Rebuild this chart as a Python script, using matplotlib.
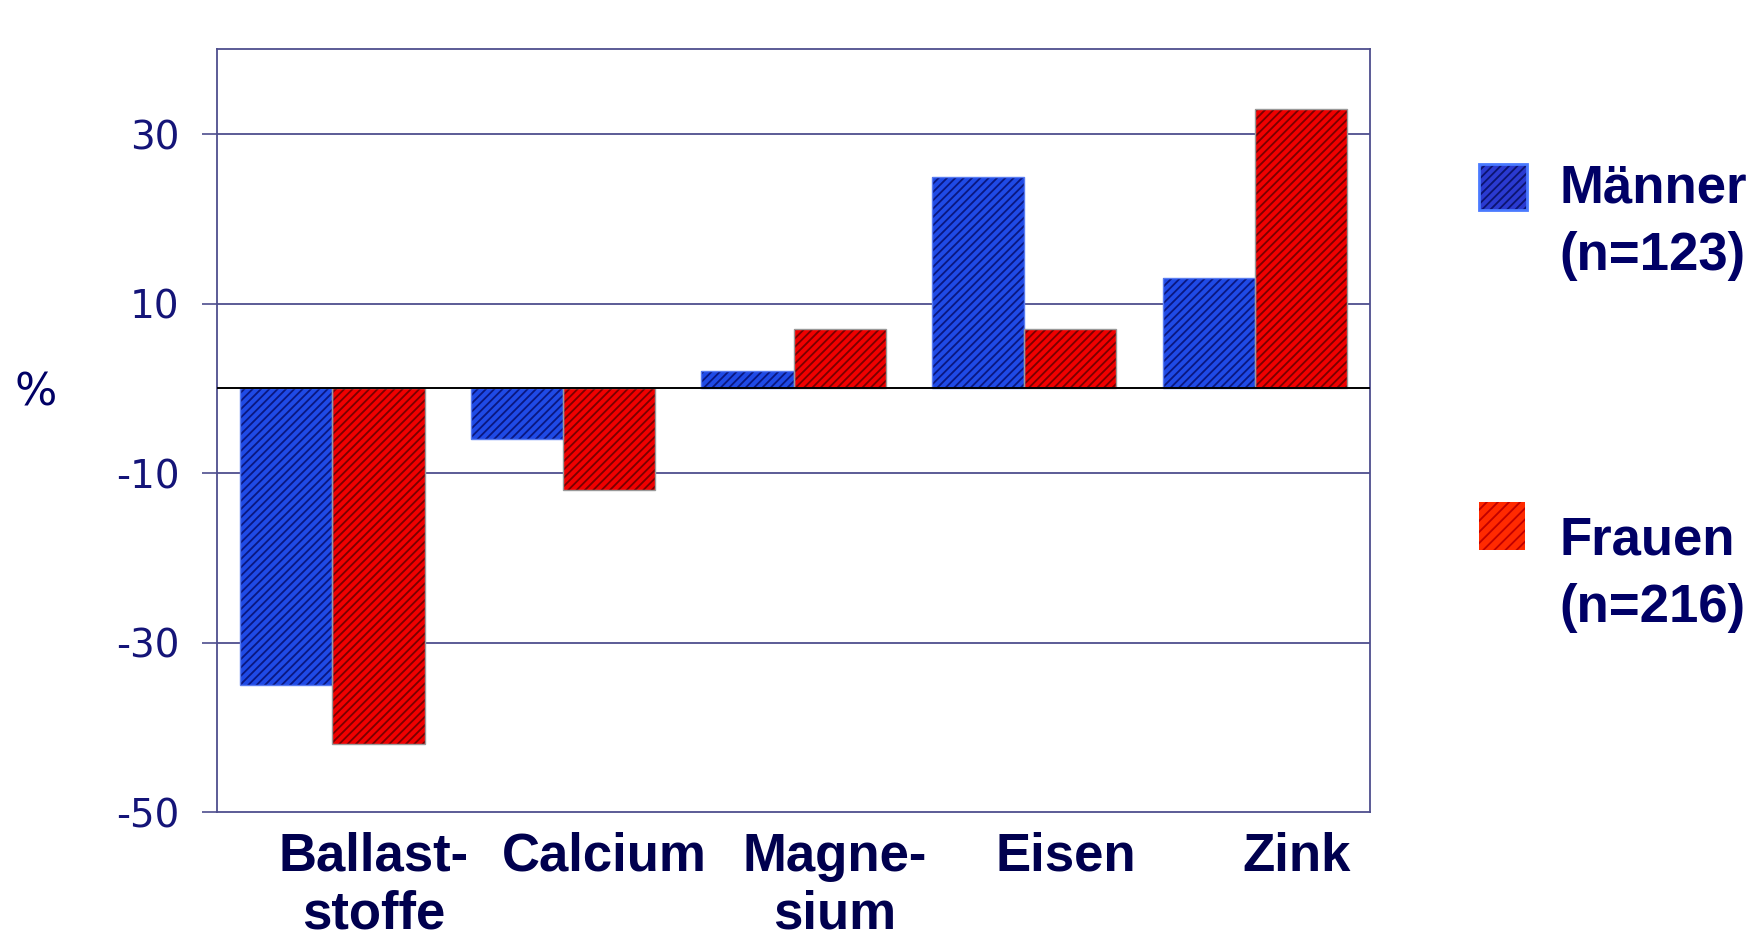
import numpy as np
import matplotlib.pyplot as plt
from matplotlib.patches import Rectangle

categories = ["Ballast-\nstoffe", "Calcium", "Magne-\nsium", "Eisen", "Zink"]
maenner = [-35, -6, 2, 25, 13]
frauen = [-42, -12, 7, 7, 33]
yticks = [-50, -30, -10, 10, 30]
legend_labels = ["Männer\n(n=123)", "Frauen\n(n=216)"]

navy = "#000066"
axis_col = "#4e4e8e"
plt.rcParams['hatch.linewidth'] = 1.3

fig = plt.figure(figsize=(17.64, 9.41), dpi=100)
ax = fig.add_axes([0.123, 0.137, 0.6537, 0.8104])

x = np.arange(len(categories))
w = 0.4

# hatched fill, then a thin outline on top
ax.bar(x - w / 2, maenner, w, color="#1f4ae6", edgecolor="#0a1780", hatch="////", lw=0, zorder=3)
ax.bar(x - w / 2, maenner, w, fill=False, edgecolor="#5a7cf0", lw=1, zorder=4)
ax.bar(x + w / 2, frauen, w, color="#f00000", edgecolor="#780000", hatch="////", lw=0, zorder=3)
ax.bar(x + w / 2, frauen, w, fill=False, edgecolor="#999999", lw=1, zorder=4)

ax.set_xlim(-0.5, len(categories) - 0.5)
ax.set_ylim(-50, 40)
ax.set_yticks(yticks)
ax.set_yticklabels([str(v) for v in yticks], fontsize=28, color="#141478", family="DejaVu Sans")
ax.tick_params(axis='y', length=11, width=1.2, color=axis_col, pad=16)

ax.set_xticks(x + 0.18)
ax.set_xticklabels(categories, fontsize=38, fontweight="bold", color="#00004e",
                   family="Liberation Sans", linespacing=1.2)
ax.tick_params(axis='x', length=0, pad=14)

for v in yticks[1:]:
    ax.axhline(v, color=axis_col, lw=1.3, zorder=1)
ax.axhline(0, color="black", lw=1.4, zorder=5)

for s in ax.spines.values():
    s.set_color(axis_col)
    s.set_linewidth(1.3)

fig.text(0.008, 0.582, "%", fontsize=32, color=navy, family="DejaVu Sans", va="center")

# legend drawn by hand to match the slide layout
fig.add_artist(Rectangle((0.8386, 0.777), 0.027, 0.049, transform=fig.transFigure,
                         facecolor="#2a3ad0", edgecolor="#0c1470", hatch="////", lw=0))
fig.add_artist(Rectangle((0.8386, 0.777), 0.027, 0.049, transform=fig.transFigure,
                         fill=False, edgecolor="#4a7aff", lw=2))
fig.add_artist(Rectangle((0.8386, 0.415), 0.026, 0.0515, transform=fig.transFigure,
                         facecolor="#ff2a00", edgecolor="#c00000", hatch="///", lw=0))
fig.text(0.884, 0.826, legend_labels[0], fontsize=38, fontweight="bold", color=navy,
         family="Liberation Sans", va="top", linespacing=1.45)
fig.text(0.884, 0.452, legend_labels[1], fontsize=38, fontweight="bold", color=navy,
         family="Liberation Sans", va="top", linespacing=1.45)

fig.savefig("out.png", dpi=100, facecolor="white")
